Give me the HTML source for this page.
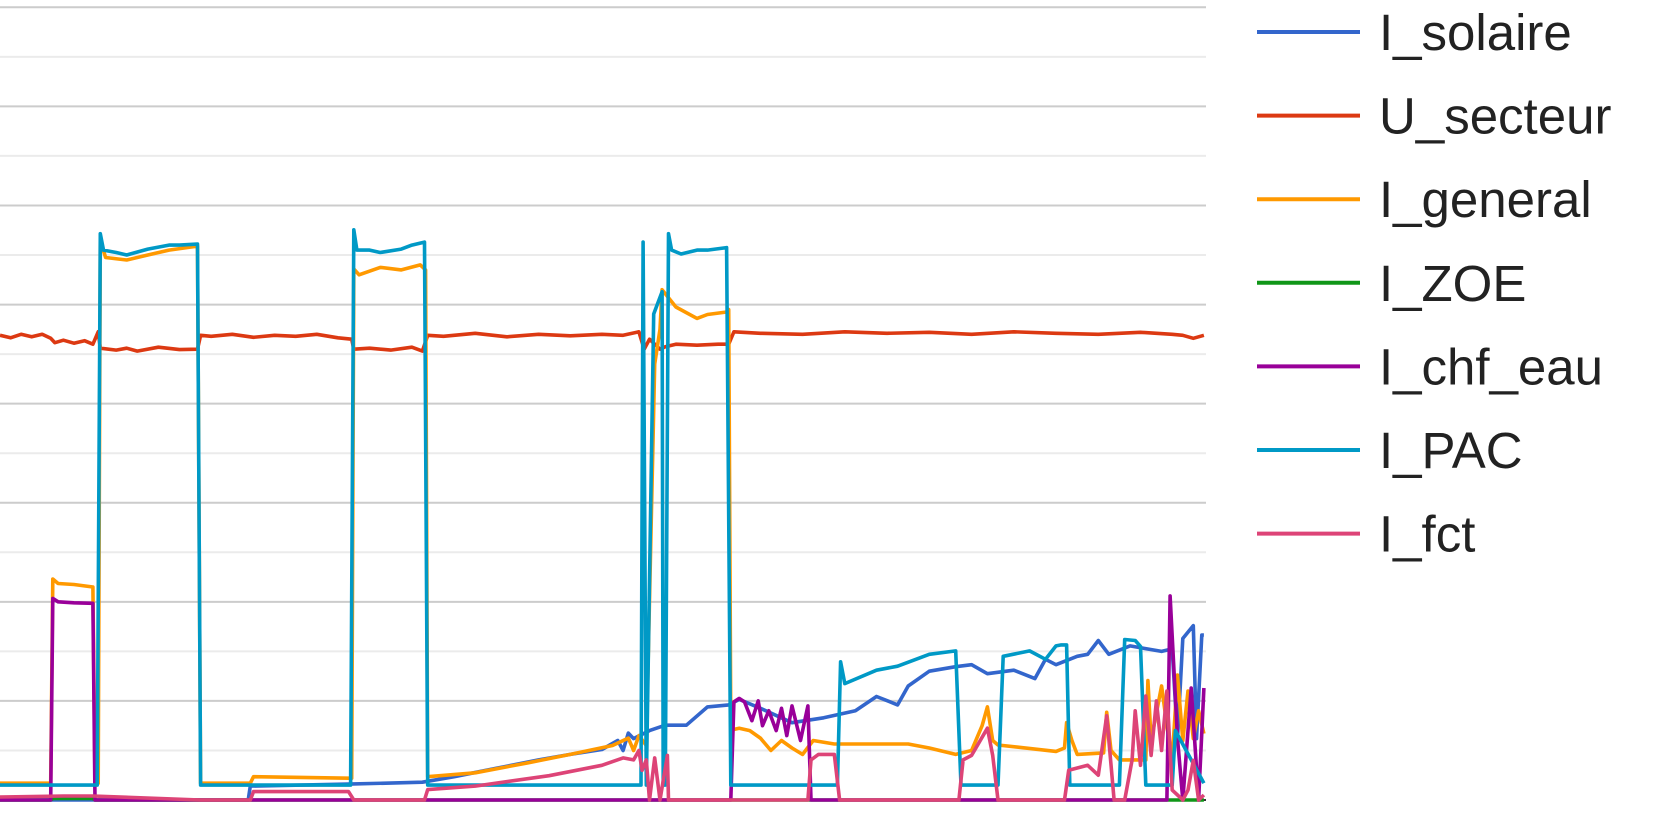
<!DOCTYPE html>
<html><head><meta charset="utf-8"><style>
html,body{margin:0;padding:0;background:#fff;width:1654px;height:823px;overflow:hidden}
svg{display:block}
text{font-family:"Liberation Sans",sans-serif}
</style></head><body>
<svg id="chart" width="1654" height="823">
<g id="grid"></g>
<g id="series"></g>
<g id="legend"></g>
</svg>
<script>
const seriesNames = ["I_solaire","U_secteur","I_general","I_ZOE","I_chf_eau","I_PAC","I_fct"];
const seriesColors = ["#3366cc","#dc3912","#ff9900","#109618","#990099","#0099c6","#dd4477"];
const gridValues = [0,1,2,3,4,5,6,7,8,9,10,11,12,13,14,15,16];

const solaireT = [0,235,237,330,400,430,470,510,540,570,585,590,595,600,615,630,650,670,690,700,720,750,780,810,830,850,860,880,905,920,935,960,980,990,1000,1020,1030,1040,1050,1070,1100,1110,1115,1120,1130,1133,1138,1140];
const solaireV = [0,0,0.28,0.32,0.36,0.47,0.64,0.81,0.92,1.02,1.2,1.0,1.35,1.24,1.4,1.51,1.51,1.88,1.92,2.03,1.85,1.56,1.66,1.8,2.09,1.92,2.3,2.6,2.69,2.73,2.55,2.62,2.45,2.84,2.73,2.9,2.94,3.22,2.94,3.11,3.0,3.05,1.24,3.26,3.52,1.24,3.33,3.33];

const secteurT = [0,10,20,30,40,48,52,60,70,80,88,93,95,110,120,130,150,170,187,190,200,220,240,260,280,300,320,333,335,350,370,390,400,405,420,450,480,510,540,570,590,605,610,615,620,625,630,640,660,680,690,695,720,760,800,840,880,920,960,1000,1040,1080,1110,1120,1130,1140];
const secteurV = [9.38,9.33,9.4,9.35,9.4,9.32,9.23,9.28,9.22,9.27,9.2,9.45,9.12,9.08,9.12,9.06,9.14,9.09,9.1,9.38,9.36,9.4,9.34,9.38,9.36,9.4,9.33,9.3,9.1,9.12,9.08,9.14,9.06,9.38,9.36,9.42,9.35,9.4,9.37,9.4,9.38,9.45,9.1,9.3,9.2,9.1,9.15,9.2,9.18,9.2,9.2,9.45,9.42,9.4,9.45,9.42,9.44,9.4,9.45,9.42,9.4,9.44,9.4,9.38,9.32,9.38];

const generalT = [0,48,50,55,70,88,90,93,95,100,120,140,160,187,190,237,240,330,333,335,340,360,380,398,403,405,450,500,540,580,595,600,605,612,620,625,627,640,660,670,688,690,692,700,710,720,730,740,750,760,770,790,800,860,880,905,920,930,935,940,945,1000,1008,1010,1015,1020,1045,1048,1052,1060,1085,1087,1090,1100,1105,1110,1115,1120,1125,1130,1135,1140];
const generalV = [0.34,0.34,4.46,4.37,4.35,4.3,0.34,0.34,11.3,10.95,10.9,11.0,11.1,11.18,0.34,0.34,0.47,0.44,0.44,10.72,10.6,10.75,10.7,10.8,10.7,0.47,0.55,0.75,0.92,1.1,1.25,1.0,1.3,1.1,8.8,9.5,10.3,9.95,9.72,9.8,9.85,9.9,1.41,1.45,1.4,1.25,1.0,1.2,1.05,0.92,1.2,1.13,1.13,1.13,1.05,0.92,1.0,1.5,1.88,1.2,1.11,0.98,1.05,1.56,1.2,0.92,0.95,1.77,1.0,0.81,0.81,2.41,1.2,2.3,1.5,0.81,2.52,1.2,2.2,1.24,1.8,1.34];

const zoeT = [0,48,50,88,90,1140];
const zoeV = [0,0,0.03,0.03,0,0];

const chfT = [0,48,50,55,70,88,90,692,695,700,705,712,718,722,728,735,740,745,750,758,762,765,768,1105,1108,1115,1120,1128,1135,1140];
const chfV = [0,0,4.07,4.0,3.98,3.97,0,0,1.98,2.05,1.98,1.6,2.0,1.5,1.8,1.4,1.85,1.3,1.9,1.2,1.6,1.9,0,0,4.12,1.24,0,2.26,0,2.26];

const pacT = [0,92,95,98,110,120,140,160,170,187,190,332,335,338,350,360,380,390,402,405,607,609,612,619,627,628,630,633,636,645,660,670,688,692,793,796,800,830,850,880,905,910,945,950,975,990,1000,1005,1010,1013,1060,1065,1075,1080,1085,1110,1113,1140];
const pacV = [0.3,0.3,11.43,11.1,11.05,11.0,11.12,11.2,11.2,11.22,0.3,0.3,11.51,11.1,11.1,11.05,11.12,11.2,11.26,0.3,0.3,11.26,0.3,9.81,10.26,0.3,0.3,11.43,11.1,11.02,11.1,11.1,11.15,0.3,0.3,2.79,2.35,2.62,2.7,2.94,3.01,0.3,0.3,2.9,3.01,2.84,3.11,3.13,3.13,0.3,0.3,3.24,3.22,3.1,0.3,0.3,1.4,0.34];

const fctT = [0,60,88,190,237,240,330,335,402,405,450,520,570,590,600,605,608,612,615,620,625,632,633,765,768,775,790,795,908,912,920,935,940,945,1008,1012,1030,1040,1048,1055,1065,1072,1075,1080,1085,1090,1095,1100,1105,1110,1115,1120,1125,1130,1135,1140];
const fctV = [0.06,0.08,0.08,0,0,0.17,0.17,0,0,0.21,0.28,0.49,0.7,0.85,0.81,1.0,0.6,0.81,0,0.85,0,0.9,0,0,0.81,0.92,0.92,0,0,0.81,0.9,1.45,0.9,0,0,0.6,0.7,0.5,1.7,0,0,0.81,1.8,0.7,2.1,0.9,2.0,1.0,2.2,0.2,0.1,0,0.2,0.8,0,0.1];

const seriesT = [solaireT,secteurT,generalT,zoeT,chfT,pacT,fctT];
const seriesV = [solaireV,secteurV,generalV,zoeV,chfV,pacV,fctV];

const NS = "http://www.w3.org/2000/svg";
const plotL = 0, plotR = 1206, plotTop = 7.3, plotBot = 800;
const tMax = 1142, vMax = 16;
function xS(t){ return plotL + t / tMax * (plotR - plotL); }
function yS(v){ return plotBot - v / vMax * (plotBot - plotTop); }

const grid = document.getElementById('grid');
gridValues.forEach(function(v){
  const l = document.createElementNS(NS,'line');
  l.setAttribute('x1', plotL); l.setAttribute('x2', plotR);
  l.setAttribute('y1', yS(v)); l.setAttribute('y2', yS(v));
  l.setAttribute('stroke', v === 0 ? '#333333' : (v % 2 === 0 ? '#cccccc' : '#ebebeb'));
  l.setAttribute('stroke-width', 2);
  
  
  grid.appendChild(l);
});

const sg = document.getElementById('series');
seriesNames.forEach(function(name, i){
  const ts = seriesT[i], vs = seriesV[i];
  let d = '';
  for (let k = 0; k < ts.length; k++) d += (k ? 'L' : 'M') + xS(ts[k]).toFixed(1) + ',' + yS(vs[k]).toFixed(1);
  const p = document.createElementNS(NS,'path');
  p.setAttribute('d', d);
  p.setAttribute('fill', 'none');
  p.setAttribute('stroke', seriesColors[i]);
  p.setAttribute('stroke-width', 3.6);
  p.setAttribute('stroke-linejoin', 'round');
  
  
  sg.appendChild(p);
});

const lg = document.getElementById('legend');
seriesNames.forEach(function(name, i){
  const y = 32 + i * 83.6;
  const g = document.createElementNS(NS,'g');
  
  
  const l = document.createElementNS(NS,'line');
  l.setAttribute('x1', 1257); l.setAttribute('x2', 1360);
  l.setAttribute('y1', y); l.setAttribute('y2', y);
  l.setAttribute('stroke', seriesColors[i]); l.setAttribute('stroke-width', 4);
  
  
  const t = document.createElementNS(NS,'text');
  t.setAttribute('x', 1379); t.setAttribute('y', y + 18);
  t.setAttribute('font-size', 51); t.setAttribute('fill', '#222222');
  
  
  t.textContent = name;
  g.appendChild(l); g.appendChild(t);
  lg.appendChild(g);
});
</script>
</body></html>
